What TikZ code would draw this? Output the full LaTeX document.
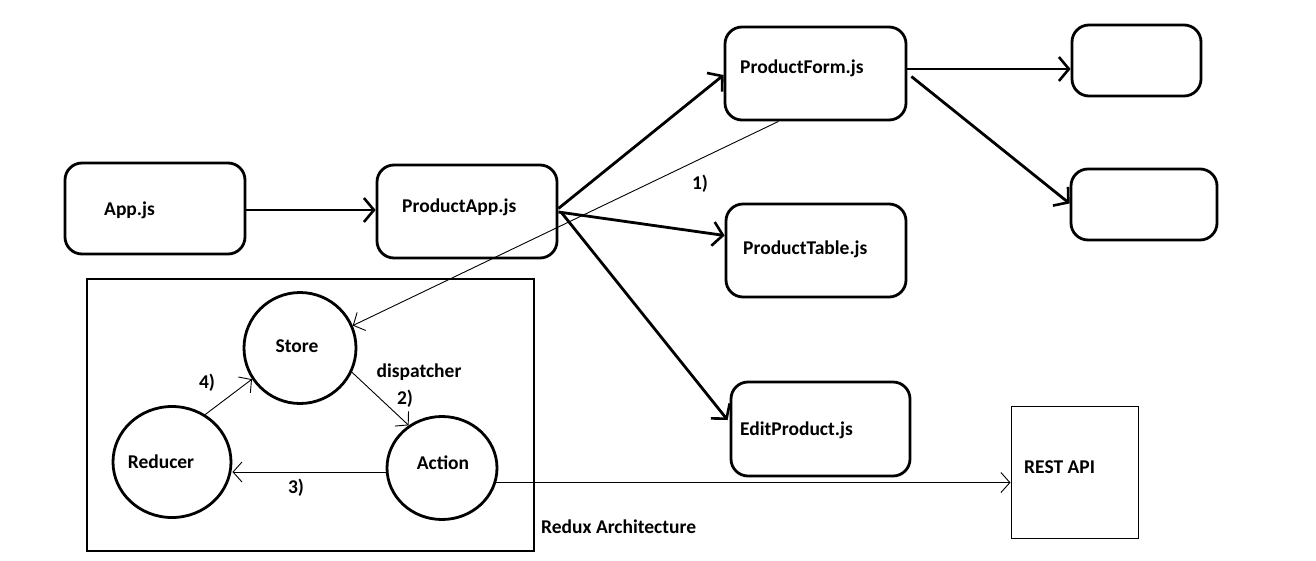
\documentclass[tikz,border=0pt]{standalone}
\usepackage{fontspec}
\setmainfont{Carlito}
\usetikzlibrary{arrows.meta,shapes.geometric}
\begin{document}
\begin{tikzpicture}[x=1pt,y=-1pt,
  box/.style={draw,line width=2.8pt,rounded corners=17pt,inner sep=0pt},
  plain/.style={draw,line width=1pt,inner sep=0pt},
  circ/.style={draw,line width=2.8pt,ellipse,inner sep=0pt},
  frame/.style={draw,line width=2.8pt,inner sep=0pt},
  lbl/.style={font=\bfseries\fontsize{19.5}{22}\selectfont,inner sep=0pt},
  thick arrow/.style={line width=2.8pt,-{Straight Barb[length=10pt,width=24pt,line width=2.6pt]}},
  thin arrow/.style={line width=0.9pt,-{Straight Barb[length=9pt,width=20pt,line width=0.9pt]}}
]
\useasboundingbox (0,0) rectangle (1316,560);
\fill[white] (0,0) rectangle (1316,560);
% boxes
\node[box,minimum width=180pt,minimum height=91pt] (app) at (155,208.5) {};
\node[box,minimum width=180pt,minimum height=93pt] (papp) at (467,211.5) {};
\node[box,minimum width=181pt,minimum height=93pt] (pform) at (815.5,73.5) {};
\node[box,minimum width=180pt,minimum height=93pt] (ptable) at (816,250.5) {};
\node[box,minimum width=179pt,minimum height=94pt] (edit) at (820.5,429) {};
\node[box,minimum width=129pt,minimum height=71pt] (b1) at (1136.5,60.5) {};
\node[box,minimum width=146pt,minimum height=71pt] (b2) at (1144,204.5) {};
\node[plain,minimum width=127pt,minimum height=132pt] (rest) at (1074.5,472) {};
\node[frame,minimum width=447pt,minimum height=272pt] (redux) at (310.5,415) {};
% circles
\node[circ,minimum width=112pt,minimum height=111pt] (store) at (300,348) {};
\node[circ,minimum width=118pt,minimum height=111pt] (reducer) at (172,462) {};
\node[circ,minimum width=110pt,minimum height=103pt] (action) at (442,468) {};
% labels
\node[lbl,anchor=west] (tapp) at (104,210) {App.js};
\node[lbl,anchor=west] (tpapp) at (402,207) {ProductApp.js};
\node[lbl,anchor=west] (tpform) at (740,68) {ProductForm.js};
\node[lbl,anchor=west] (tptable) at (743,249) {ProductTable.js};
\node[lbl,anchor=west] (tedit) at (740,430) {EditProduct.js};
\node[lbl,anchor=west] (trest) at (1024,467) {REST API};
\node[lbl] (tstore) at (297,346) {Store};
\node[lbl] (treducer) at (161,462) {Reducer};
\node[lbl] (taction) at (443,463) {Action};
\node[lbl] (tdisp) at (419,372) {dispatcher};
\node[lbl] (t1) at (700,184) {1)};
\node[lbl] (t2) at (405,399) {2)};
\node[lbl] (t3) at (296,488) {3)};
\node[lbl] (t4) at (207,383) {4)};
\node[lbl,anchor=west] (tredux) at (541,527) {Redux Architecture};
% thick connectors
\draw[thick arrow] ([yshift=-1.5pt]app.east) -- ([yshift=-1.5pt]app.east -| papp.west);
\draw[thick arrow] ([yshift=3pt]papp.east) -- ([yshift=-1.5pt]pform.west);
\draw[thick arrow] ([yshift=-0.5pt]papp.east) -- ([yshift=15pt]ptable.west);
\draw[thick arrow] ([xshift=3pt,yshift=-1pt]papp.east) -- ([xshift=-2pt,yshift=9pt]edit.west);
\draw[thick arrow] ([yshift=4.5pt]pform.east) -- ([yshift=4.5pt]pform.east -| b1.west);
\draw[thick arrow] ([xshift=4pt,yshift=-3pt]pform.east) -- ([yshift=1pt]b2.west);
% thin connectors
\draw[thin arrow] ([xshift=-37pt]pform.south) -- (store.23);
\draw[thin arrow] (store.-25) -- (action.128);
\draw[thin arrow] ([yshift=-4pt]action.west) -- ([yshift=-4pt]action.west -| reducer.east);
\draw[thin arrow] (reducer.55) -- (store.213);
\draw[thin arrow] (action.-15) -- (action.-15 -| rest.west);
\end{tikzpicture}
\end{document}
